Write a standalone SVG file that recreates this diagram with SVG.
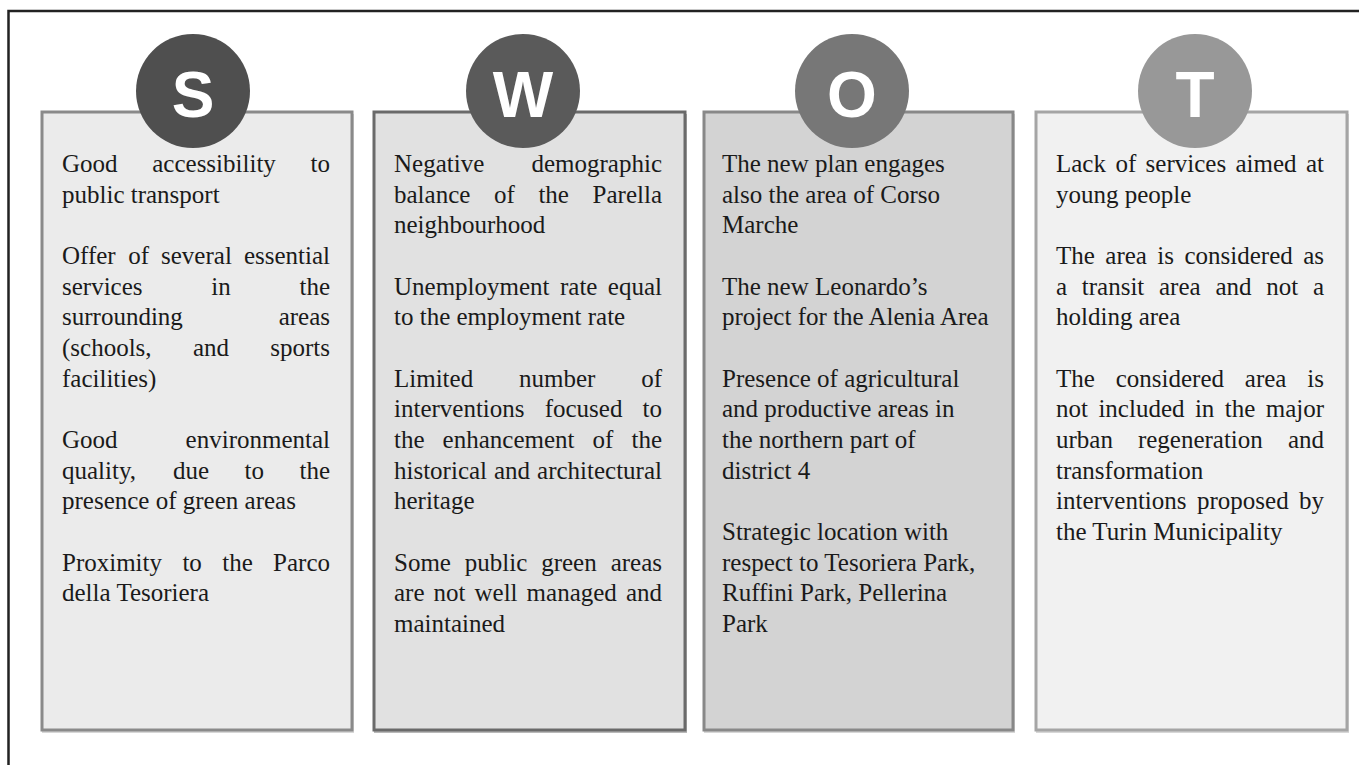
<svg xmlns="http://www.w3.org/2000/svg" width="1359" height="765" viewBox="0 0 1359 765">
<style>
.t{font-family:"Liberation Serif","Times New Roman",serif;font-size:25px;fill:#1a1a1a}
.l{font-family:"Liberation Sans",Arial,sans-serif;font-weight:bold;font-size:64px;fill:#ffffff;text-anchor:middle}
.sh{fill:#bdbdbd;opacity:0.6}
</style>
<rect width="1359" height="765" fill="#ffffff"/>
<path d="M8.5,780 V11 H1370" fill="none" stroke="#222222" stroke-width="2.5"/>

<g id="node-S">
<rect class="sh" x="42" y="114" width="312" height="619"/>
<rect x="42" y="112" width="310" height="618" fill="#ebebeb" stroke="#8a8a8a" stroke-width="3"/>
<circle cx="193" cy="91" r="57" fill="#4f4f4f"/>
<text class="l" x="193" y="117">S</text>
<text class="t" y="172"><tspan x="62">Good </tspan><tspan x="152.25">accessibility </tspan><tspan x="310.55">to</tspan></text>
<text class="t" x="62" y="202.7">public transport</text>
<text class="t" y="264"><tspan x="62">Offer </tspan><tspan x="128.2">of </tspan><tspan x="161.05">several </tspan><tspan x="243.9">essential</tspan></text>
<text class="t" y="294.6"><tspan x="62">services </tspan><tspan x="211.3">in </tspan><tspan x="299.45">the</tspan></text>
<text class="t" y="325.3"><tspan x="62">surrounding </tspan><tspan x="278.65">areas</tspan></text>
<text class="t" y="355.9"><tspan x="62">(schools, </tspan><tspan x="192.9">and </tspan><tspan x="270.3">sports</tspan></text>
<text class="t" x="62" y="386.6">facilities)</text>
<text class="t" y="447.9"><tspan x="62">Good </tspan><tspan x="185.6">environmental</tspan></text>
<text class="t" y="478.5"><tspan x="62">quality, </tspan><tspan x="173.1">due </tspan><tspan x="244.6">to </tspan><tspan x="299.45">the</tspan></text>
<text class="t" x="62" y="509.2">presence of green areas</text>
<text class="t" y="570.5"><tspan x="62">Proximity </tspan><tspan x="182.4">to </tspan><tspan x="222.2">the </tspan><tspan x="273.1">Parco</tspan></text>
<text class="t" x="62" y="601.1">della Tesoriera</text>
</g>

<g id="node-W">
<rect class="sh" x="374" y="114" width="313" height="619" style="fill:#8a8a8a"/>
<rect x="374" y="112" width="311" height="618" fill="#e1e1e1" stroke="#6a6a6a" stroke-width="3"/>
<circle cx="523" cy="91" r="57" fill="#5a5a5a"/>
<text class="l" x="523" y="117">W</text>
<text class="t" y="172"><tspan x="394">Negative </tspan><tspan x="531.5">demographic</tspan></text>
<text class="t" y="202.7"><tspan x="394">balance </tspan><tspan x="494">of </tspan><tspan x="538.4">the </tspan><tspan x="592.6">Parella</tspan></text>
<text class="t" x="394" y="233.3">neighbourhood</text>
<text class="t" y="294.6"><tspan x="394">Unemployment </tspan><tspan x="560">rate </tspan><tspan x="607.85">equal</tspan></text>
<text class="t" x="394" y="325.3">to the employment rate</text>
<text class="t" y="386.6"><tspan x="394">Limited </tspan><tspan x="519">number </tspan><tspan x="641.2">of</tspan></text>
<text class="t" y="417.2"><tspan x="394">interventions </tspan><tspan x="544.7">focused </tspan><tspan x="642.55">to</tspan></text>
<text class="t" y="447.9"><tspan x="394">the </tspan><tspan x="442.6">enhancement </tspan><tspan x="592.6">of </tspan><tspan x="631.45">the</tspan></text>
<text class="t" y="478.5"><tspan x="394">historical </tspan><tspan x="494">and </tspan><tspan x="537.05">architectural</tspan></text>
<text class="t" x="394" y="509.2">heritage</text>
<text class="t" y="570.5"><tspan x="394">Some </tspan><tspan x="464.8">public </tspan><tspan x="541.2">green </tspan><tspan x="610.65">areas</tspan></text>
<text class="t" y="601.1"><tspan x="394">are </tspan><tspan x="433.6">not </tspan><tspan x="474.5">well </tspan><tspan x="526.6">managed </tspan><tspan x="625.9">and</tspan></text>
<text class="t" x="394" y="631.8">maintained</text>
</g>

<g id="node-O">
<rect class="sh" x="704" y="114" width="311" height="619"/>
<rect x="704" y="112" width="309" height="618" fill="#d3d3d3" stroke="#888888" stroke-width="3"/>
<circle cx="852" cy="91" r="57" fill="#777777"/>
<text class="l" x="852" y="117">O</text>
<text class="t" x="722" y="172">The new plan engages</text>
<text class="t" x="722" y="202.7">also the area of Corso</text>
<text class="t" x="722" y="233.3">Marche</text>
<text class="t" x="722" y="294.6">The new Leonardo’s</text>
<text class="t" x="722" y="325.3">project for the Alenia Area</text>
<text class="t" x="722" y="386.6">Presence of agricultural</text>
<text class="t" x="722" y="417.2">and productive areas in</text>
<text class="t" x="722" y="447.9">the northern part of</text>
<text class="t" x="722" y="478.5">district 4</text>
<text class="t" x="722" y="539.8">Strategic location with</text>
<text class="t" x="722" y="570.5">respect to Tesoriera Park,</text>
<text class="t" x="722" y="601.1">Ruffini Park, Pellerina</text>
<text class="t" x="722" y="631.8">Park</text>
</g>

<g id="node-T">
<rect class="sh" x="1036" y="114" width="313" height="619"/>
<rect x="1036" y="112" width="311" height="618" fill="#f1f1f1" stroke="#a5a5a5" stroke-width="3"/>
<circle cx="1195" cy="91" r="57" fill="#989898"/>
<text class="l" x="1195" y="117">T</text>
<text class="t" y="172"><tspan x="1056">Lack </tspan><tspan x="1115.4">of </tspan><tspan x="1145.6">services </tspan><tspan x="1235.5">aimed </tspan><tspan x="1305.95">at</tspan></text>
<text class="t" x="1056" y="202.7">young people</text>
<text class="t" y="264"><tspan x="1056">The </tspan><tspan x="1105.3">area </tspan><tspan x="1157.35">is </tspan><tspan x="1184.45">considered </tspan><tspan x="1303.2">as</tspan></text>
<text class="t" y="294.6"><tspan x="1056">a </tspan><tspan x="1081.8">transit </tspan><tspan x="1159">area </tspan><tspan x="1215.4">and </tspan><tspan x="1266.2">not </tspan><tspan x="1312.9">a</tspan></text>
<text class="t" x="1056" y="325.3">holding area</text>
<text class="t" y="386.6"><tspan x="1056">The </tspan><tspan x="1115.7">considered </tspan><tspan x="1244.8">area </tspan><tspan x="1307.3">is</tspan></text>
<text class="t" y="417.2"><tspan x="1056">not </tspan><tspan x="1098.4">included </tspan><tspan x="1194.9">in </tspan><tspan x="1224.8">the </tspan><tspan x="1265.7">major</tspan></text>
<text class="t" y="447.9"><tspan x="1056">urban </tspan><tspan x="1137.9">regeneration </tspan><tspan x="1287.9">and</tspan></text>
<text class="t" x="1056" y="478.5">transformation</text>
<text class="t" y="509.2"><tspan x="1056">interventions </tspan><tspan x="1197">proposed </tspan><tspan x="1299">by</tspan></text>
<text class="t" x="1056" y="539.8">the Turin Municipality</text>
</g>
</svg>
